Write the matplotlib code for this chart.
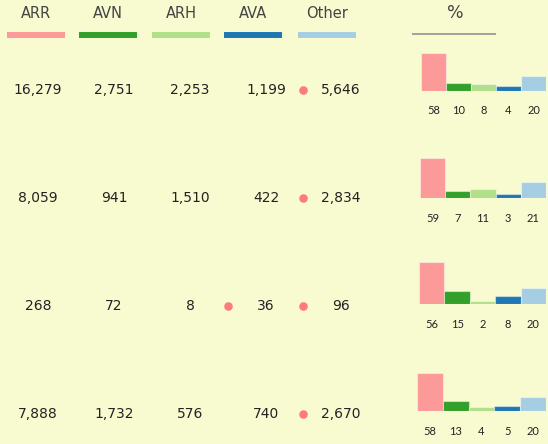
import numpy as np
import matplotlib.pyplot as plt

# data
categories = ['ARR', 'AVN', 'ARH', 'AVA', 'Other']
colors = ['#fb9a99', '#33a02c', '#b2df8a', '#1f78b4', '#a6cee3']

row1 = [16279, 2751, 2253, 1199, 5646]
row2 = [8059, 941, 1510, 422, 2834]
row3 = [268, 72, 8, 36, 96]
row4 = [7888, 1732, 576, 740, 2670]
rows = [row1, row2, row3, row4]

# red dot flags in front of a value
dots1 = [0, 0, 0, 0, 1]
dots2 = [0, 0, 0, 0, 1]
dots3 = [0, 0, 0, 1, 1]
dots4 = [0, 0, 0, 0, 1]
dots = [dots1, dots2, dots3, dots4]

bg = '#f8fbd0'

# figure in pixel units
W, H = 548, 444
fig = plt.figure(figsize=(W / 100, H / 100), dpi=100, facecolor=bg)
ax = fig.add_axes([0, 0, 1, 1])
ax.set_xlim(0, W)
ax.set_ylim(H, 0)
ax.axis('off')
ax.set_facecolor(bg)

# header
head_x = [36, 108, 181, 253, 327]
for i, cat in enumerate(categories):
    ax.text(head_x[i], 14, cat, ha='center', va='center', fontsize=10.5, color='#444444')
    ax.plot([head_x[i] - 29, head_x[i] + 29], [35, 35], color=colors[i],
            linewidth=4.3, solid_capstyle='butt')

ax.text(455, 13, '%', ha='center', va='center', fontsize=12.5, color='#444444')
ax.plot([412, 496], [34, 34], color='#999999', linewidth=1.3, solid_capstyle='butt')

# numbers
val_x = [38, 114, 190, 266, 341]
row_y = [90, 198, 306, 414]
for r, vals in enumerate(rows):
    for i, v in enumerate(vals):
        ax.text(val_x[i], row_y[r], f'{v:,}', ha='center', va='center',
                fontsize=10, color='#222222')
        if dots[r][i]:
            ax.scatter(val_x[i] - 38, row_y[r], s=38, color='#ff7b7b', linewidths=0)

# small percent bar charts (pixel scale per %, plus a small base pad)
base_y = [91, 198, 304, 411]
left_x = [421, 420, 419, 417]
px_per_pct = [0.617, 0.632, 0.722, 0.63]
pad_px = [2.2, 2.4, 1.9, 1.8]
box_h = 45
for r, vals in enumerate(rows):
    vals = np.array(vals)
    pct = np.round(vals / vals.sum() * 100).astype(int)
    sub = fig.add_axes([left_x[r] / W, (H - base_y[r]) / H, (546 - left_x[r]) / W, box_h / H])
    pad = pad_px[r] / px_per_pct[r]
    sub.bar(range(5), pct + pad, width=1.0, color=colors,
            edgecolor=(1, 1, 1, 0.45), linewidth=0.8)
    sub.set_xlim(-0.5, 4.5)
    sub.set_ylim(0, box_h / px_per_pct[r])
    sub.axis('off')
    for i, p in enumerate(pct):
        sub.annotate(str(p), (i, 0), xytext=(0, -20), textcoords='offset pixels',
                     ha='center', va='center', fontsize=8, color='#222222',
                     family='Lato')

fig.savefig('out.png', dpi=100, facecolor=bg)
